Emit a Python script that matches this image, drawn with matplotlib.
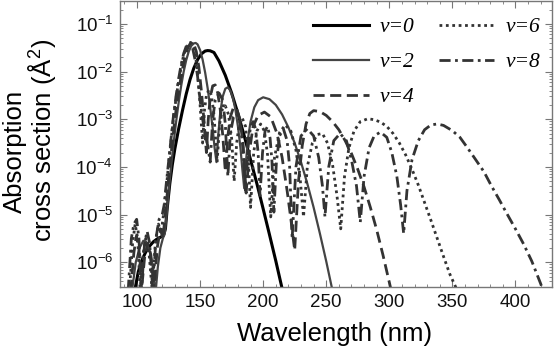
import numpy as np
import matplotlib.pyplot as plt
from matplotlib.ticker import LogLocator, MultipleLocator, NullFormatter
from matplotlib.font_manager import FontProperties

plt.rcParams['font.family'] = ['Liberation Sans', 'DejaVu Sans']
plt.rcParams['mathtext.fontset'] = 'custom'
plt.rcParams['mathtext.rm'] = 'Liberation Sans'
plt.rcParams['mathtext.it'] = 'Liberation Sans:italic'

# (wavelength nm, log10 cross section A^2)
v0_pts = [(98.5, -6.55), (101, -6.2), (104, -5.95), (107, -5.78), (110, -5.66), (113, -5.57),
          (116, -5.51), (119, -5.47), (121, -5.44), (122.5, -5.3), (124, -4.85), (126, -4.35),
          (128, -3.95), (130, -3.62), (133, -3.2), (136, -2.82), (139, -2.47), (142, -2.17),
          (145, -1.93), (148, -1.75), (151, -1.63), (154, -1.57), (156, -1.56), (158, -1.565),
          (161, -1.6), (165, -1.78), (170, -2.08), (175, -2.45), (180, -2.88), (185, -3.35),
          (190, -3.85), (195, -4.35), (200, -4.88), (205, -5.42), (210, -5.97), (215, -6.55)]

v2_pts = [(96, -6.6), (99, -6.0), (102, -5.7), (105, -5.55), (107, -5.56), (110, -5.75),
          (112.5, -6.1), (114.5, -6.7), (116.5, -6.1), (118.5, -5.7), (120.5, -5.5), (122, -5.4),
          (123.5, -5.0), (125, -4.55), (127, -4.0), (129, -3.5), (131, -3.05), (133, -2.65),
          (135, -2.3), (137, -2.0), (139, -1.76), (141, -1.58), (143, -1.46), (145, -1.41),
          (146.5, -1.40), (148, -1.43), (150, -1.55), (152, -1.75), (154, -2.02), (156, -2.35),
          (158, -2.75), (160, -3.2), (161.5, -3.6), (163, -3.9), (164.5, -3.3), (166, -2.85),
          (168, -2.52), (170, -2.36), (172, -2.33), (174, -2.4), (176, -2.55), (178, -2.8),
          (180, -3.15), (182, -3.6), (183.5, -4.05), (185, -4.45), (186.5, -3.85), (188, -3.4),
          (190, -3.05), (193, -2.75), (196, -2.6), (200, -2.54), (205, -2.58), (210, -2.7),
          (215, -2.9), (220, -3.17), (225, -3.5), (230, -3.9), (235, -4.35), (240, -4.85),
          (245, -5.4), (250, -5.98), (255, -6.6)]

v4_pts = [(95, -6.6), (97.5, -5.8), (99.5, -5.45), (101.5, -5.7), (103.5, -6.6), (106, -5.9),
          (108.5, -5.6), (111, -5.85), (113.5, -6.6), (116, -5.7), (118.5, -5.3), (120.5, -5.5),
          (122, -5.1), (124, -4.55), (126, -3.95), (128, -3.5), (130, -3.0), (132, -2.6),
          (134, -2.25), (136, -1.95), (138, -1.7), (140, -1.52), (142, -1.42), (143.5, -1.39),
          (145, -1.42), (147, -1.58), (149, -1.9), (151, -2.4), (153, -3.0), (155, -3.7),
          (156.5, -3.0), (158, -2.55), (160, -2.3), (162, -2.28), (164, -2.45), (166, -2.8),
          (168, -3.35), (170, -4.1), (172, -3.35), (174, -2.95), (176.5, -2.75), (179, -2.78),
          (181.5, -3.0), (184, -3.5), (186.5, -4.55), (189, -3.7), (192, -3.15), (196, -2.92),
          (201, -2.85), (206, -2.95), (211, -3.3), (215, -3.8), (219, -4.5), (222, -5.1),
          (225, -5.75), (228, -4.3), (231, -3.55), (234, -3.1), (237, -2.88), (240, -2.82),
          (245, -2.84), (250, -2.92), (255, -3.05), (260, -3.22), (265, -3.45), (270, -3.72),
          (275, -4.05), (280, -4.42), (285, -4.85), (290, -5.32), (295, -5.85), (300, -6.42),
          (302, -6.65)]

v6_pts = [(94, -6.6), (96.5, -5.6), (98.5, -5.2), (100.5, -5.5), (102.5, -6.6), (105, -5.8),
          (107, -5.5), (109.5, -5.8), (112, -6.6), (114.5, -5.6), (117, -5.2), (119, -5.4),
          (121, -5.0), (123, -4.5), (125, -3.95), (127, -3.45), (129, -2.95), (131, -2.55),
          (133, -2.2), (135, -1.9), (137, -1.65), (139, -1.5), (141, -1.42), (142.5, -1.39),
          (144, -1.42), (146, -1.6), (148, -2.0), (150, -2.7), (152, -3.5), (153.5, -2.8),
          (155, -2.5), (157, -2.38), (159, -2.5), (161, -2.9), (163.5, -3.9), (165.5, -3.1),
          (167.5, -2.8), (170, -2.72), (172.5, -2.9), (175, -3.4), (177, -4.3), (179, -3.5),
          (181, -3.1), (183.5, -2.98), (186, -3.15), (188, -3.7), (190, -4.85), (192.5, -3.7),
          (195, -3.25), (198, -3.1), (201, -3.25), (203.5, -3.75), (206, -5.05), (209, -3.8),
          (213, -3.28), (217.5, -3.12), (222, -3.25), (226, -3.65), (229.5, -4.3), (232, -5.05),
          (235, -4.0), (239, -3.5), (243, -3.32), (247, -3.3), (251, -3.5), (255, -3.95),
          (258.5, -4.6), (261.5, -5.3), (264.5, -4.2), (268, -3.6), (272, -3.25), (277, -3.05),
          (283, -2.99), (288, -3.01), (293, -3.06), (298, -3.15), (303, -3.3), (308, -3.5),
          (313, -3.75), (318, -4.05), (323, -4.38), (328, -4.75), (333, -5.12), (338, -5.5),
          (343, -5.88), (348, -6.25), (354, -6.6)]

v8_pts = [(93, -6.6), (95.5, -5.5), (97.5, -5.2), (99.7, -5.1), (101.5, -5.5), (103.5, -6.6),
          (106, -5.6), (108, -5.35), (110, -5.6), (112.5, -6.6), (115, -5.5), (117.5, -5.1),
          (120, -5.0), (121.5, -4.8), (123, -4.4), (125, -3.9), (127, -3.4), (129, -2.9),
          (131, -2.5), (133, -2.15), (135, -1.85), (137, -1.62), (139, -1.47), (141, -1.4),
          (142.5, -1.4), (144, -1.5), (146, -1.75), (148, -2.1), (150, -2.6), (152, -3.0),
          (154, -3.3), (156, -3.55), (158, -3.9), (160, -3.0), (162, -2.6), (165, -2.45),
          (168, -2.6), (170, -3.1), (172, -4.2), (174, -3.3), (176.5, -2.95), (179, -2.88),
          (181.5, -3.05), (184, -3.6), (186, -4.5), (188, -3.6), (190, -3.15), (192, -3.05),
          (194, -3.2), (196, -3.7), (197.5, -4.6), (199.5, -3.7), (201.5, -3.25), (203.5, -3.15),
          (205.5, -3.4), (207, -3.9), (208.5, -4.95), (210.5, -3.9), (213, -3.35), (216, -3.2),
          (219, -3.45), (221, -4.0), (223, -5.5), (226, -4.0), (230, -3.35), (235, -3.2),
          (240, -3.35), (244, -3.8), (247, -4.4), (249, -5.05), (252, -4.0), (256, -3.45),
          (261, -3.3), (266, -3.45), (270, -3.85), (274, -4.4), (277, -5.16), (280, -4.2),
          (284, -3.6), (288, -3.35), (293, -3.27), (298, -3.38), (302, -3.7), (306, -4.2),
          (309, -4.8), (311.4, -5.4), (314, -4.5), (318, -3.85), (323, -3.45), (328, -3.22),
          (333, -3.12), (338, -3.1), (343, -3.13), (350, -3.24), (356, -3.38), (362, -3.6),
          (368, -3.83), (375, -4.1), (381, -4.4), (387, -4.68), (393, -4.97), (400, -5.3),
          (406.5, -5.62), (413, -5.98), (420, -6.45), (422, -6.6)]

labels = ['v=0', 'v=2', 'v=4', 'v=6', 'v=8']
x_ticks = [100, 150, 200, 250, 300, 350, 400]


def unpack(pts):
    a = np.array(pts)
    return a[:, 0], 10.0 ** a[:, 1]


W, H = 556, 354
fig = plt.figure(figsize=(W / 100, H / 100), dpi=100)
ax = fig.add_axes([120 / W, 1 - 287 / H, 432 / W, 286 / H])

styles = [
    dict(color='black', lw=2.2, ls='-'),
    dict(color='#444444', lw=1.6, ls='-'),
    dict(color='#333333', lw=2.0, ls=(0, (4, 2))),
    dict(color='#333333', lw=2.0, ls=(0, (1, 1.3))),
    dict(color='#333333', lw=2.0, ls=(0, (4, 1.6, 1, 1.6))),
]
for pts, lab, st in zip([v0_pts, v2_pts, v4_pts, v6_pts, v8_pts], labels, styles):
    x, y = unpack(pts)
    ax.plot(x, y, label=lab, **st)

ax.set_yscale('log')
ax.set_xlim(86.5, 429)
ax.set_ylim(10 ** -6.52, 10 ** -0.52)

ax.set_xticks(x_ticks)
ax.xaxis.set_minor_locator(MultipleLocator(10))
ax.yaxis.set_major_locator(LogLocator(base=10, numticks=20))
ax.yaxis.set_minor_locator(LogLocator(base=10, subs=np.arange(2, 10), numticks=20))
ax.yaxis.set_minor_formatter(NullFormatter())

frame = '#777777'
for s in ax.spines.values():
    s.set_color(frame)
    s.set_linewidth(1.0)
ax.tick_params(which='both', direction='in', top=True, right=True, color=frame,
               labelsize=13.5, labelcolor='#111111', pad=5)
ax.tick_params(which='major', length=5)
ax.tick_params(which='minor', length=2.5)

fig.text(335 / W, 1 - 334 / H, 'Wavelength (nm)', fontsize=18.5, ha='center', va='center')
fig.text(15 / W, 1 - 151 / H, 'Absorption', rotation=90, fontsize=18.5,
         ha='center', va='center')
fig.text(42 / W, 1 - 140 / H, 'cross section (Å$^2$)', rotation=90, fontsize=18.5,
         ha='center', va='center')

leg = ax.legend(ncol=2, loc='upper right', frameon=False, handlelength=2.6,
                columnspacing=1.1, labelspacing=0.7, handletextpad=0.5,
                borderpad=0.0, borderaxespad=0.0,
                bbox_to_anchor=((540 - 120) / 432, 1 - 16 / 286),
                prop=FontProperties(family='Liberation Serif', style='italic', size=15.5))

fig.savefig('out.png', dpi=100)
